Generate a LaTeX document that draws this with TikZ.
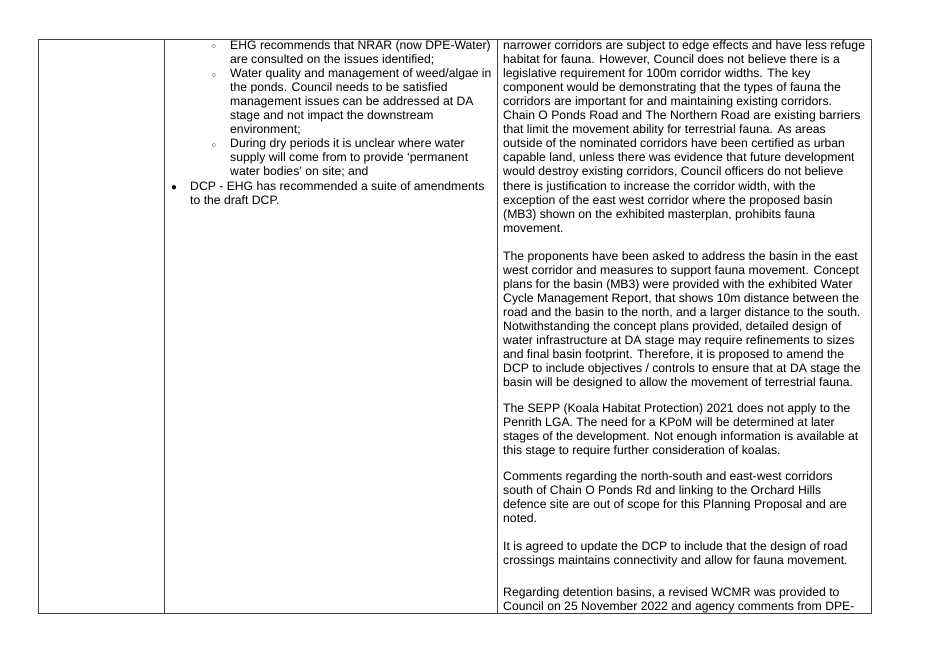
\documentclass[tikz,border=0pt]{standalone}
\usepackage{fontspec}
\setmainfont{Liberation Sans}
\usetikzlibrary{positioning}
\tikzset{
  para/.style={anchor=north west, inner sep=0pt, align=left,
    font=\fontsize{12.2pt}{14.1pt}\selectfont},
  grid/.style={draw=black!75, line width=0.9pt}
}
\begin{document}
\begin{tikzpicture}[x=1pt,y=-1pt]
	\useasboundingbox (0,0) rectangle (928,656);
	% table frame
	\draw [grid] (38,39) rectangle (871,613);
	\draw [grid] (164,39) -- (164,613) (497,39) -- (497,613);
	
	% middle column
	\node [para] (s1) at (230,40) {EHG recommends that NRAR (now DPE-Water)\\are consulted on the issues identified;\\Water quality and management of weed/algae in\\the ponds. Council needs to be satisfied\\management issues can be addressed at DA\\stage and not impact the downstream\\environment;\\During dry periods it is unclear where water\\supply will come from to provide `permanent\\water bodies' on site; and};
	\node [para] (b1) at (190,181) {DCP - EHG has recommended a suite of amendments\\to the draft DCP.};
	\foreach \y in {47,75.2,145.7} \node [font=\fontsize{8pt}{8pt}\selectfont] at (214,\y) {$\circ$};
	\node [font=\fontsize{11pt}{11pt}\selectfont] at (174,188) {$\bullet$};
	
	% right column
	\node [para] (p1) at (503,40) {narrower corridors are subject to edge effects and have less refuge\\habitat for fauna. However, Council does not believe there is a\\legislative requirement for 100m corridor widths. The key\\component would be demonstrating that the types of fauna the\\corridors are important for and maintaining existing corridors.\\Chain O Ponds Road and The Northern Road are existing barriers\\that limit the movement ability for terrestrial fauna. As areas\\outside of the nominated corridors have been certified as urban\\capable land, unless there was evidence that future development\\would destroy existing corridors, Council officers do not believe\\there is justification to increase the corridor width, with the\\exception of the east west corridor where the proposed basin\\(MB3) shown on the exhibited masterplan, prohibits fauna\\movement.};
	\node [para] (p2) at (503,251) {The proponents have been asked to address the basin in the east\\west corridor and measures to support fauna movement. Concept\\plans for the basin (MB3) were provided with the exhibited Water\\Cycle Management Report, that shows 10m distance between the\\road and the basin to the north, and a larger distance to the south.\\Notwithstanding the concept plans provided, detailed design of\\water infrastructure at DA stage may require refinements to sizes\\and final basin footprint. Therefore, it is proposed to amend the\\DCP to include objectives / controls to ensure that at DA stage the\\basin will be designed to allow the movement of terrestrial fauna.};
	\node [para] (p3) at (503,403) {The SEPP (Koala Habitat Protection) 2021 does not apply to the\\Penrith LGA. The need for a KPoM will be determined at later\\stages of the development. Not enough information is available at\\this stage to require further consideration of koalas.};
	\node [para] (p4) at (503,471) {Comments regarding the north-south and east-west corridors\\south of Chain O Ponds Rd and linking to the Orchard Hills\\defence site are out of scope for this Planning Proposal and are\\noted.};
	\node [para] (p5) at (503,541) {It is agreed to update the DCP to include that the design of road\\crossings maintains connectivity and allow for fauna movement.};
	\node [para] (p6) at (503,587) {Regarding detention basins, a revised WCMR was provided to\\Council on 25 November 2022 and agency comments from DPE-};
\end{tikzpicture}
\end{document}
